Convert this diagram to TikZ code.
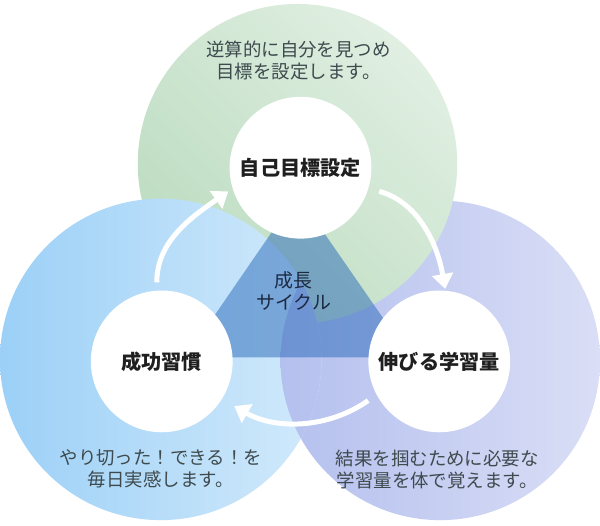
\documentclass[tikz,border=0pt]{standalone}
\usepackage{fontspec}
\setmainfont{Noto Sans CJK JP}
\usetikzlibrary{arrows.meta}

\definecolor{greenA}{RGB}{188,220,192}
\definecolor{greenB}{RGB}{224,239,226}
\definecolor{blueA}{RGB}{156,208,247}
\definecolor{blueB}{RGB}{210,234,251}
\definecolor{purpleA}{RGB}{180,192,238}
\definecolor{purpleB}{RGB}{218,222,246}
\definecolor{coreblue}{RGB}{40,104,185}
\definecolor{notetext}{RGB}{62,74,78}
\definecolor{coretext}{RGB}{28,42,66}

\begin{document}
\begin{tikzpicture}[
    stage/.style={circle,fill=white,minimum size=2.84cm,inner sep=0pt,text=black!88,
                  font=\fontsize{11.5}{14}\selectfont\bfseries},
    note/.style={align=center,text=notetext,font=\fontsize{10.5}{12.5}\selectfont},
    cyclearrow/.style={draw=white,line width=0.1cm,-{Triangle[width=0.42cm,length=0.3cm]}}
  ]
            % Canvas
            \fill[white] (0,0) rectangle (12,10.52);

            % Three large circles
            \shade[left color=purpleA,right color=purpleB] (8.8,3.3) circle (3.2);
            \shade[top color=greenB,bottom color=greenA,shading angle=-45] (5.94,7.24) circle (3.2);
            \shade[left color=blueA,right color=blueB] (3.2,3.32) circle (3.22);
            \begin{scope}
                \clip (3.2,3.32) circle (3.22);
                \shade[left color=purpleA,right color=purpleB] (8.8,3.3) circle (3.2);
            \end{scope}

            % Centre triangle
            \fill[coreblue,opacity=0.5] (5.94,6.62) -- (3.7,3.36) -- (8.2,3.36) -- cycle;
            \node[align=center,text=coretext,font=\fontsize{10.8}{13}\selectfont] (core) at (5.86,4.69) {成長\\サイクル};

            % Stages
            \node[stage] (goal) at (6.0,7.16) {自己目標設定};
            \node[stage] (habit) at (3.22,3.28) {成功習慣};
            \node[stage] (gain) at (8.78,3.28) {伸びる学習量};

            % Cycle arrows
            \draw[cyclearrow,shorten <=0.16cm,shorten >=0.1cm] (habit.94) to[out=90,in=215] (goal.197);
            \draw[cyclearrow,shorten <=0.22cm,shorten >=0.03cm] (goal.-17) to[out=-15,in=100] (gain.85);
            \draw[cyclearrow,shorten <=0.2cm,shorten >=0.28cm] (gain.208) to[out=215,in=-30] (habit.328);

            % Notes
            \node[note] (goalnote) at (5.96,9.3) {逆算的に自分を見つめ\\目標を設定します。};
            \node[note] (habitnote) at (3.2,1.12) {やり切った！できる！を\\毎日実感します。};
            \node[note] (gainnote) at (8.74,1.12) {結果を掴むために必要な\\学習量を体で覚えます。};
        \end{tikzpicture}
\end{document}
